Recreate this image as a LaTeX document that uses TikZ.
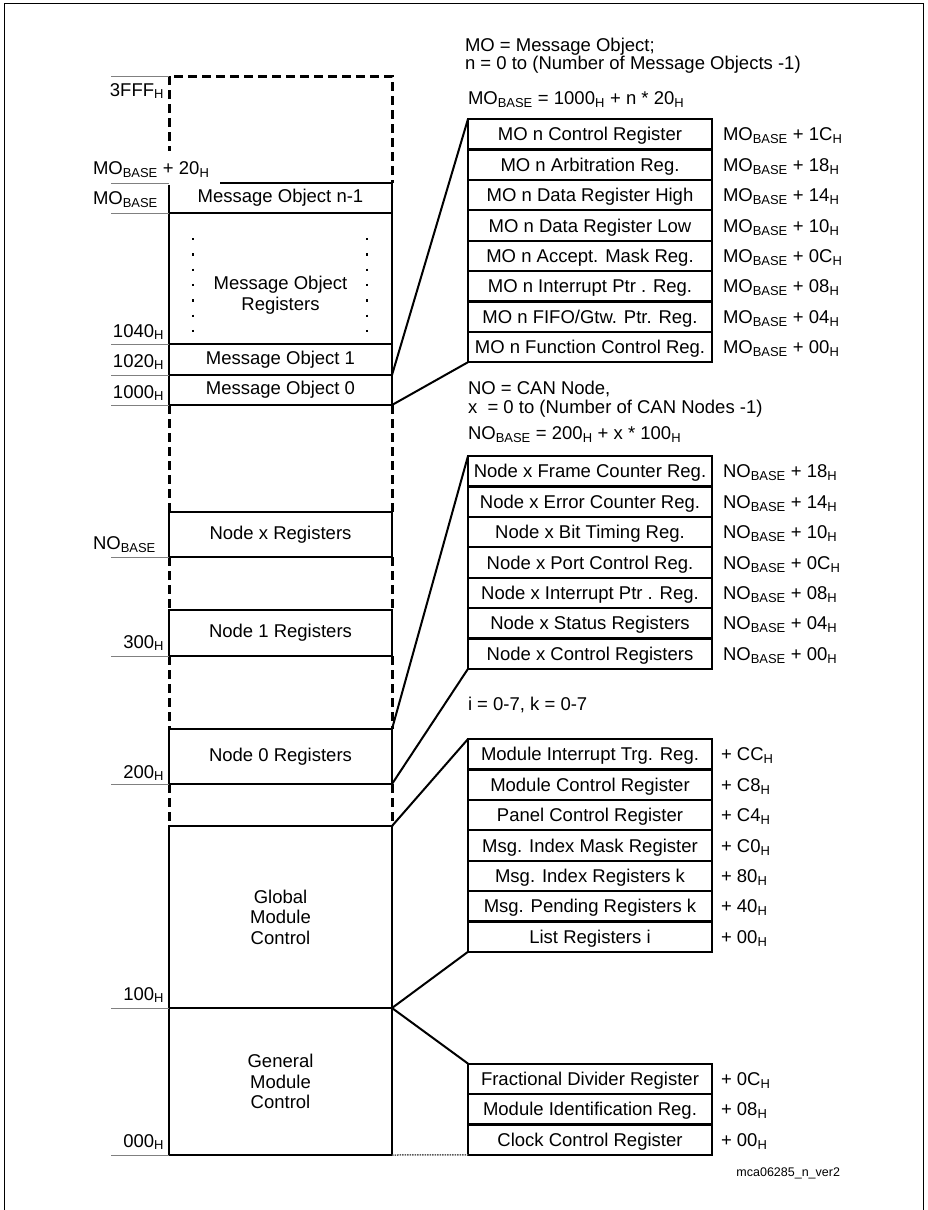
\documentclass[tikz,border=0pt]{standalone}
\usepackage{fontspec}
\setmainfont{Liberation Sans}
\usetikzlibrary{positioning}
\newcommand\Hx{\textsubscript{H}}
\newcommand\Base{\textsubscript{BASE}}

\begin{document}
\begin{tikzpicture}[x=1pt,y=-1pt,node distance=0pt,
  every node/.style={font=\fontsize{18.5}{20.5}\selectfont,inner sep=0pt,outer sep=0pt},
  box/.style={draw,line width=2.2pt,fill=white,minimum width=223pt,align=center},
  reg/.style={draw,line width=2.2pt,minimum width=244pt,minimum height=30.4pt,text height=13.3pt,text depth=0pt},
  off/.style={text height=13.3pt,text depth=0pt},
  resv/.style={line width=3pt,dash pattern=on 9pt off 5pt},
  tick/.style={gray,line width=1pt},
  link/.style={line width=2pt}]
\useasboundingbox (0,0) rectangle (927,1210);
\draw[line width=0.9pt] (4,1210)--(4,3)--(923,3)--(923,1210);
\node[box,minimum height=30pt] (mon1) at (280.5,198) {Message Object n-1};
\node[box,minimum height=131pt] (moreg) at (280.5,278.5) {};
\node[box,minimum height=31pt] (mo1) at (280.5,359.5) {Message Object 1};
\node[box,minimum height=30pt] (mo0) at (280.5,390) {Message Object 0};
\node[box,minimum height=45pt] (ndx) at (280.5,534.5) {Node x Registers};
\node[box,minimum height=46pt] (nd1) at (280.5,633) {Node 1 Registers};
\node[box,minimum height=55pt] (nd0) at (280.5,756.5) {Node 0 Registers};
\node[box,minimum height=182pt] (glob) at (280.5,917) {Global\\Module\\Control};
\node[box,minimum height=147pt] (gen) at (280.5,1081.5) {General\\Module\\Control};
\node[align=center] (moregtxt) at (280.5,295) {Message Object\\Registers};
\draw[line width=2.2pt,dash pattern=on 2.2pt off 13.13pt] (193,238)--(193,334) (367,238)--(367,334);
\draw[resv] (mon1.north west)--(169,76)--(392,76)--(mon1.north east);
\draw[resv] (mo0.south west)--(ndx.north west) (mo0.south east)--(ndx.north east);
\draw[resv] (ndx.south west)--(nd1.north west) (ndx.south east)--(nd1.north east);
\draw[resv] (nd1.south west)--(nd0.north west) (nd1.south east)--(nd0.north east);
\draw[resv] (nd0.south west)--(glob.north west) (nd0.south east)--(glob.north east);
\fill[white] (166,151) rectangle (220,184.5);
\node[anchor=base east] (l3fff) at (164,96) {3FFF\Hx};
\node[anchor=base west] (lmo20) at (93,174.5) {MO\Base{} + 20\Hx};
\node[anchor=base west] (lmob) at (93,204.5) {MO\Base};
\node[anchor=base east] (l1040) at (164,337) {1040\Hx};
\node[anchor=base east] (l1020) at (164,367) {1020\Hx};
\node[anchor=base east] (l1000) at (164,398) {1000\Hx};
\node[anchor=base west] (lnob) at (93,549.5) {NO\Base};
\node[anchor=base east] (l300) at (164,648) {300\Hx};
\node[anchor=base east] (l200) at (164,778) {200\Hx};
\node[anchor=base east] (l100) at (164,1000) {100\Hx};
\node[anchor=base east] (l000) at (164,1147) {000\Hx};
\draw[tick] (169,76)--++(-58,0) (mon1.north west)--++(-58,0) (mon1.south west)--++(-58,0);
\draw[tick] (moreg.south west)--++(-58,0) (mo1.south west)--++(-58,0) (mo0.south west)--++(-58,0);
\draw[tick] (ndx.south west)--++(-58,0) (nd1.south west)--++(-58,0) (nd0.south west)--++(-58,0);
\draw[tick] (glob.south west)--++(-58,0) (gen.south west)--++(-58,0);
\node[anchor=west,align=left,font=\fontsize{18.5}{18}\selectfont] (modef) at (465,56) {MO = Message Object;\\n = 0 to (Number of Message Objects -1)};
\node[anchor=west] (mobase) at (468,100) {MO\Base{} = 1000\Hx{} + n * 20\Hx};
\node[reg] (mr1) at (590,134.2) {MO n Control Register};
\node[reg,below=of mr1] (mr2) {MO n Arbitration Reg.};
\node[reg,below=of mr2] (mr3) {MO n Data Register High};
\node[reg,below=of mr3] (mr4) {MO n Data Register Low};
\node[reg,below=of mr4] (mr5) {MO n Accept. Mask Reg.};
\node[reg,below=of mr5] (mr6) {MO n Interrupt Ptr . Reg.};
\node[reg,below=of mr6] (mr7) {MO n FIFO/Gtw. Ptr. Reg.};
\node[reg,below=of mr7] (mr8) {MO n Function Control Reg.};
\node[off,right=11pt of mr1] (omr1) {MO\Base{} + 1C\Hx};
\node[off,right=11pt of mr2] (omr2) {MO\Base{} + 18\Hx};
\node[off,right=11pt of mr3] (omr3) {MO\Base{} + 14\Hx};
\node[off,right=11pt of mr4] (omr4) {MO\Base{} + 10\Hx};
\node[off,right=11pt of mr5] (omr5) {MO\Base{} + 0C\Hx};
\node[off,right=11pt of mr6] (omr6) {MO\Base{} + 08\Hx};
\node[off,right=11pt of mr7] (omr7) {MO\Base{} + 04\Hx};
\node[off,right=11pt of mr8] (omr8) {MO\Base{} + 00\Hx};
\node[anchor=west,align=left,font=\fontsize{18.5}{19}\selectfont] (nodef) at (468,399.5) {NO = CAN Node,\\x \ = 0 to (Number of CAN Nodes -1)};
\node[anchor=west] (nobase) at (468,435) {NO\Base{} = 200\Hx{} + x * 100\Hx};
\node[reg] (nr1) at (590,471.2) {Node x Frame Counter Reg.};
\node[reg,below=of nr1] (nr2) {Node x Error Counter Reg.};
\node[reg,below=of nr2] (nr3) {Node x Bit Timing Reg.};
\node[reg,below=of nr3] (nr4) {Node x Port Control Reg.};
\node[reg,below=of nr4] (nr5) {Node x Interrupt Ptr . Reg.};
\node[reg,below=of nr5] (nr6) {Node x Status Registers};
\node[reg,below=of nr6] (nr7) {Node x Control Registers};
\node[off,right=11pt of nr1] (onr1) {NO\Base{} + 18\Hx};
\node[off,right=11pt of nr2] (onr2) {NO\Base{} + 14\Hx};
\node[off,right=11pt of nr3] (onr3) {NO\Base{} + 10\Hx};
\node[off,right=11pt of nr4] (onr4) {NO\Base{} + 0C\Hx};
\node[off,right=11pt of nr5] (onr5) {NO\Base{} + 08\Hx};
\node[off,right=11pt of nr6] (onr6) {NO\Base{} + 04\Hx};
\node[off,right=11pt of nr7] (onr7) {NO\Base{} + 00\Hx};
\node[anchor=west] (ikdef) at (468,705) {i = 0-7, k = 0-7};
\node[reg] (gr1) at (590,754.2) {Module Interrupt Trg. Reg.};
\node[reg,below=of gr1] (gr2) {Module Control Register};
\node[reg,below=of gr2] (gr3) {Panel Control Register};
\node[reg,below=of gr3] (gr4) {Msg. Index Mask Register};
\node[reg,below=of gr4] (gr5) {Msg. Index Registers k};
\node[reg,below=of gr5] (gr6) {Msg. Pending Registers k};
\node[reg,below=of gr6] (gr7) {List Registers i};
\node[off,right=9pt of gr1] (ogr1) {+ CC\Hx};
\node[off,right=9pt of gr2] (ogr2) {+ C8\Hx};
\node[off,right=9pt of gr3] (ogr3) {+ C4\Hx};
\node[off,right=9pt of gr4] (ogr4) {+ C0\Hx};
\node[off,right=9pt of gr5] (ogr5) {+ 80\Hx};
\node[off,right=9pt of gr6] (ogr6) {+ 40\Hx};
\node[off,right=9pt of gr7] (ogr7) {+ 00\Hx};
\node[reg] (gn1) at (590,1078.8) {Fractional Divider Register};
\node[reg,below=of gn1] (gn2) {Module Identification Reg.};
\node[reg,below=of gn2] (gn3) {Clock Control Register};
\node[off,right=9pt of gn1] (ogn1) {+ 0C\Hx};
\node[off,right=9pt of gn2] (ogn2) {+ 08\Hx};
\node[off,right=9pt of gn3] (ogn3) {+ 00\Hx};
\draw[link] (mo0.north east)--(mr1.north west) (mo0.south east)--(mr8.south west);
\draw[link] (nd0.north east)--(nr1.north west) (nd0.south east)--(nr7.south west);
\draw[link] (glob.north east)--(gr1.north west) (glob.south east)--(gr7.south west);
\draw[link] (gen.north east)--(gn1.north west);
\draw[gray!70!black,line width=1.5pt,dash pattern=on 1.5pt off 1pt] (gen.south east)--(gn3.south west);
\node[anchor=base east,font=\fontsize{12.5}{14}\selectfont] (figid) at (840,1176.5) {mca06285\_n\_ver2};
\end{tikzpicture}
\end{document}
